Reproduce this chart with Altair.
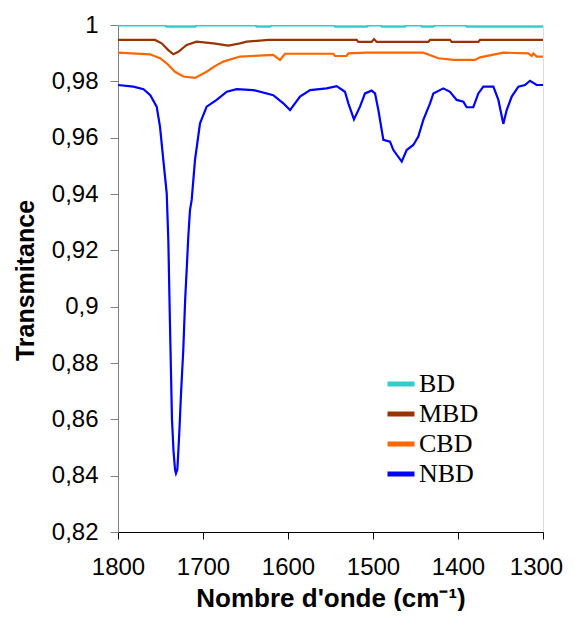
import altair as alt
import pandas as pd

series_names = ["BD", "MBD", "CBD", "NBD"]
series_colors = ["#33CCCC", "#993300", "#FF6600", "#0000FF"]

bd_wn = [1800, 1745, 1742.7, 1709.4, 1707, 1638, 1636.9, 1621.2, 1619, 1546, 1544.7, 1507.4, 1505,
         1491, 1489.8, 1462.4, 1460, 1444, 1442.7, 1429, 1427, 1391, 1389.8, 1358.4, 1300]
bd_t = [0.9999, 0.9999, 0.9994, 0.9994, 0.9999, 0.9999, 0.9994, 0.9994, 0.9999, 0.9999, 0.9994, 0.9994, 0.9999,
        0.9999, 0.9994, 0.9994, 0.9999, 0.9999, 0.9994, 0.9994, 0.9999, 0.9999, 0.9994, 0.9994, 0.9994]

mbd_wn = [1800, 1756.5, 1748.6, 1740.8, 1734.9, 1729, 1719.2, 1707.5, 1687.8, 1670.2, 1656.5, 1648.6, 1623.1,
          1519.2, 1517.3, 1501.6, 1498.8, 1495.7, 1434.9, 1432.9, 1409.4, 1407.5, 1376.1, 1374.1, 1300]
mbd_t = [0.9947, 0.9947, 0.9935, 0.9911, 0.9896, 0.9905, 0.9929, 0.9941, 0.9935, 0.9927, 0.9935, 0.9941, 0.9947,
         0.9947, 0.9940, 0.9940, 0.9950, 0.9940, 0.9940, 0.9947, 0.9947, 0.9940, 0.9940, 0.9947, 0.9947]

cbd_wn = [1800, 1762.4, 1750.6, 1742.7, 1732.9, 1723.1, 1709.4, 1695.7, 1685.9, 1676.1, 1656.5, 1617.3, 1609.4,
          1603.5, 1546.7, 1544.7, 1531, 1529, 1507.4, 1440.8, 1423.1, 1405.5, 1380, 1374.1, 1346.7, 1317.3,
          1313.3, 1311.4, 1307.4, 1300]
cbd_t = [0.9902, 0.9896, 0.9882, 0.9864, 0.9834, 0.9817, 0.9812, 0.9834, 0.9854, 0.9870, 0.9888, 0.9894, 0.9876,
         0.9898, 0.9898, 0.9890, 0.9890, 0.9899, 0.9902, 0.9902, 0.9882, 0.9876, 0.9876, 0.9885, 0.9902, 0.9899,
         0.9890, 0.9899, 0.9888, 0.9888]

nbd_wn = [1800, 1782, 1770, 1762, 1754.5, 1750.6, 1746.7, 1742.7, 1740.8, 1738.8, 1736.5, 1734.7, 1732.9,
          1731.8, 1730.2, 1729.1, 1727.6, 1725.9, 1723.2, 1721, 1719, 1717.3, 1715.3, 1713.3, 1709.4, 1703.5,
          1695.7, 1683.9, 1672, 1660.4, 1640.8, 1617.3, 1605.5, 1597.6, 1585.9, 1574, 1554.5, 1542.7, 1533,
          1529, 1522.4, 1515.3, 1509.4, 1501.6, 1497.6, 1493.7, 1487.8, 1480, 1476, 1466.2, 1460.4, 1452.6,
          1446.7, 1440.8, 1432.9, 1429, 1417.3, 1409.4, 1401.6, 1393.7, 1389.8, 1382, 1376.1, 1370.2, 1358.4,
          1352.5, 1346.7, 1342.7, 1336.8, 1329, 1321.2, 1315.3, 1307.4, 1300]
nbd_t = [0.9787, 0.9781, 0.9772, 0.9751, 0.9710, 0.9639, 0.9521, 0.9403, 0.9237, 0.8929, 0.8600, 0.8488, 0.8422,
         0.8408, 0.8422, 0.8482, 0.8570, 0.8689, 0.8846, 0.9024, 0.9142, 0.9248, 0.9343, 0.9379, 0.9521, 0.9651,
         0.9710, 0.9734, 0.9763, 0.9772, 0.9769, 0.9751, 0.9722, 0.9698, 0.9746, 0.9769, 0.9775, 0.9783, 0.9763,
         0.9722, 0.9665, 0.9710, 0.9757, 0.9767, 0.9757, 0.9698, 0.9592, 0.9586, 0.9556, 0.9515, 0.9556, 0.9574,
         0.9604, 0.9663, 0.9722, 0.9757, 0.9775, 0.9763, 0.9734, 0.9728, 0.9708, 0.9708, 0.9757, 0.9781, 0.9781,
         0.9734, 0.9649, 0.9698, 0.9746, 0.9781, 0.9787, 0.9802, 0.9787, 0.9787]

x_ticks = [1800, 1700, 1600, 1500, 1400, 1300]
y_ticks = [0.82, 0.84, 0.86, 0.88, 0.90, 0.92, 0.94, 0.96, 0.98, 1.0]

frames = []
for name, wn, t in [("BD", bd_wn, bd_t), ("MBD", mbd_wn, mbd_t), ("CBD", cbd_wn, cbd_t), ("NBD", nbd_wn, nbd_t)]:
    frames.append(pd.DataFrame({"wn": wn, "T": t, "serie": name}))
df = pd.concat(frames, ignore_index=True)

chart = alt.Chart(df).mark_line(strokeWidth=2.2, clip=True).encode(
    x=alt.X("wn:Q",
            scale=alt.Scale(domain=[1300, 1800], reverse=True, nice=False, zero=False),
            axis=alt.Axis(values=x_ticks, format="d", title="Nombre d'onde (cm⁻¹)",
                          grid=False, domainColor="#000000", tickColor="#000000",
                          tickSize=7, labelPadding=16, labelFontSize=24, labelFont="Liberation Sans",
                          labelColor="#000000", titleFont="Liberation Sans", titleFontSize=26,
                          titleFontWeight="bold", titleColor="#000000", titleY=74,
                          titleBaseline="alphabetic", labelFlush=False,
                          labelOffset={"condition": {"test": "datum.value == 1300", "value": -7}, "value": 0})),
    y=alt.Y("T:Q",
            scale=alt.Scale(domain=[0.82, 1.0], nice=False, zero=False),
            axis=alt.Axis(values=y_ticks, labelExpr="replace(format(datum.value, '.2~f'), '.', ',')",
                          title="Transmitance", grid=False, domainColor="#808080", tickColor="#808080",
                          tickSize=8, labelPadding=12, labelFontSize=24, labelFont="Liberation Sans",
                          labelColor="#000000", titleFont="Liberation Sans", titleFontSize=25,
                          titleFontWeight="bold", titleColor="#000000", titleX=-85, titleY=255,
                          titleAngle=270, titleBaseline="alphabetic", labelFlush=False)),
    color=alt.Color("serie:N",
                    scale=alt.Scale(domain=series_names, range=series_colors),
                    sort=series_names,
                    legend=alt.Legend(title=None, orient="none", legendX=267, legendY=343,
                                      symbolType="stroke", symbolSize=729, symbolStrokeWidth=5,
                                      labelFont="Liberation Serif", labelFontSize=26, labelColor="#000000",
                                      labelOffset=2, rowPadding=1, padding=0)),
    detail="serie:N",
).properties(
    width=425, height=507,
    autosize=alt.AutoSizeParams(type="none"),
    padding={"left": 110, "top": 17, "right": 22, "bottom": 79},
).configure_view(stroke="transparent").configure(background="white")

chart.save("out.html", embed_options={"renderer": "svg", "actions": False})
